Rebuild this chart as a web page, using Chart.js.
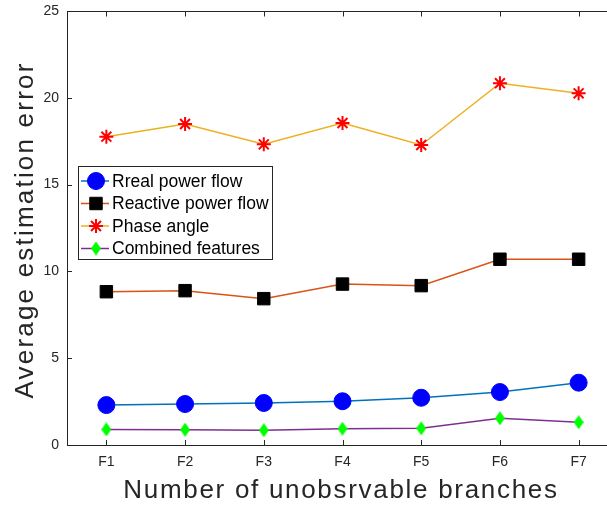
<!DOCTYPE html>
<html>
<head>
<meta charset="utf-8">
<script src="https://cdn.jsdelivr.net/npm/chart.js@4.4.1/dist/chart.umd.min.js"></script>
<style>
  html, body { margin: 0; padding: 0; background: #fff; overflow: hidden; }
  /* the axes box runs a little past the right edge of the visible window */
  #wrap { position: relative; width: 607px; height: 505px; overflow: hidden; }
  #c { display: block; }
</style>
</head>
<body>
<div id="wrap"><canvas id="c" width="618" height="505"></canvas></div>
<script>
// Branch cases on the x axis
const categories = ['F1', 'F2', 'F3', 'F4', 'F5', 'F6', 'F7'];

// Average estimation error per feature set
const realPowerFlow     = [2.30, 2.36, 2.42, 2.52, 2.72, 3.05, 3.59];
const reactivePowerFlow = [8.83, 8.89, 8.43, 9.27, 9.18, 10.70, 10.70];
const phaseAngle        = [17.76, 18.49, 17.32, 18.55, 17.28, 20.84, 20.26];
const combinedFeatures  = [0.90, 0.88, 0.85, 0.94, 0.96, 1.54, 1.31];

const seriesLabels = ['Rreal power flow', 'Reactive power flow', 'Phase angle', 'Combined features'];
const xTitle = 'Number of unobsrvable branches';
const yTitle = 'Average estimation error';
const yMin = 0, yMax = 25, yStep = 5;

const FONT = "'Liberation Sans', Arial, Helvetica, sans-serif";
const AXIS = '#262626';

// Tall narrow diamond marker
function diamondMarker(w, h, color) {
  const c = document.createElement('canvas');
  c.width = w; c.height = h;
  const g = c.getContext('2d');
  g.fillStyle = color;
  g.beginPath();
  g.moveTo(w / 2, 0); g.lineTo(w, h / 2); g.lineTo(w / 2, h); g.lineTo(0, h / 2);
  g.closePath(); g.fill();
  return c;
}
const diamond = diamondMarker(10, 14, '#00FF00');

const datasets = [
  { label: seriesLabels[0], data: realPowerFlow, borderColor: '#0072BD', backgroundColor: '#0072BD',
    pointStyle: 'circle', pointRadius: 8.5, pointBackgroundColor: '#0000FF', pointBorderColor: '#0000FF', pointBorderWidth: 1 },
  { label: seriesLabels[1], data: reactivePowerFlow, borderColor: '#D95319', backgroundColor: '#D95319',
    pointStyle: 'rect', pointRadius: 8.8, pointBackgroundColor: '#000000', pointBorderColor: '#000000', pointBorderWidth: 1 },
  { label: seriesLabels[2], data: phaseAngle, borderColor: '#EDB120', backgroundColor: '#EDB120',
    pointStyle: 'star', pointRadius: 7, pointBackgroundColor: '#FF0000', pointBorderColor: '#FF0000', pointBorderWidth: 2 },
  { label: seriesLabels[3], data: combinedFeatures, borderColor: '#7E2F8E', backgroundColor: '#7E2F8E',
    pointStyle: diamond, pointRadius: 7, pointBackgroundColor: '#00FF00', pointBorderColor: '#00FF00', pointBorderWidth: 1 }
].map(d => Object.assign({ borderWidth: 1.5, tension: 0, fill: false, clip: false }, d));

// Top edge plus inward-pointing tick marks
const framePlugin = {
  id: 'frame',
  beforeDatasetsDraw(chart) {
    const { ctx, chartArea: a, scales: { x, y } } = chart;
    ctx.save();
    ctx.strokeStyle = AXIS;
    ctx.lineWidth = 1;
    ctx.beginPath();
    const top = Math.round(a.top) + 0.5;
    ctx.moveTo(a.left, top); ctx.lineTo(a.right, top);
    x.ticks.forEach((t, i) => {
      const px = Math.round(x.getPixelForTick(i)) + 0.5;
      ctx.moveTo(px, a.bottom); ctx.lineTo(px, a.bottom - 5);
      ctx.moveTo(px, top); ctx.lineTo(px, top + 5);
    });
    y.ticks.forEach((t, i) => {
      const py = Math.round(y.getPixelForTick(i)) + 0.5;
      ctx.moveTo(a.left, py); ctx.lineTo(a.left + 5, py);
    });
    ctx.stroke();
    ctx.restore();
  }
};

// Axis titles, drawn with a little letter spacing
const titlesPlugin = {
  id: 'axisTitles',
  afterDraw(chart) {
    const { ctx } = chart;
    ctx.save();
    ctx.fillStyle = AXIS;
    ctx.font = '26px ' + FONT;
    ctx.textAlign = 'center';
    ctx.textBaseline = 'alphabetic';
    ctx.letterSpacing = '1.7px';
    ctx.fillText(xTitle, 341, 498);
    ctx.translate(33, 230);
    ctx.rotate(-Math.PI / 2);
    ctx.letterSpacing = '2.2px';
    ctx.fillText(yTitle, 0, 0);
    ctx.restore();
  }
};

// Boxed legend with line + marker samples
const legendPlugin = {
  id: 'boxLegend',
  afterDraw(chart) {
    const { ctx } = chart;
    const box = { x: 78.5, y: 166.5, w: 194, h: 93 };
    ctx.save();
    ctx.fillStyle = '#ffffff';
    ctx.fillRect(box.x, box.y, box.w, box.h);
    ctx.strokeStyle = AXIS;
    ctx.lineWidth = 1;
    ctx.strokeRect(box.x, box.y, box.w, box.h);
    ctx.font = '17.5px ' + FONT;
    ctx.textBaseline = 'middle';
    ctx.textAlign = 'left';
    chart.data.datasets.forEach((ds, i) => {
      const cy = 181 + i * 22.5;
      ctx.strokeStyle = ds.borderColor;
      ctx.lineWidth = ds.borderWidth;
      ctx.beginPath();
      ctx.moveTo(81, cy); ctx.lineTo(109, cy);
      ctx.stroke();
      ctx.fillStyle = ds.pointBackgroundColor;
      ctx.strokeStyle = ds.pointBorderColor;
      ctx.lineWidth = ds.pointBorderWidth;
      Chart.helpers.drawPoint(ctx, {
        pointStyle: ds.pointStyle, radius: ds.pointRadius, rotation: 0, borderWidth: ds.pointBorderWidth
      }, 96, cy);
      ctx.fillStyle = '#000000';
      ctx.fillText(ds.label, 112, cy + 1);
    });
    ctx.restore();
  }
};

new Chart(document.getElementById('c'), {
  type: 'line',
  data: { labels: categories, datasets },
  plugins: [framePlugin, legendPlugin, titlesPlugin],
  options: {
    responsive: false,
    devicePixelRatio: 1,
    animation: false,
    layout: { autoPadding: false, padding: { top: 11, right: 0, bottom: 0, left: 0 } },
    plugins: { legend: { display: false }, tooltip: { enabled: false } },
    scales: {
      x: {
        type: 'category',
        offset: true,
        grid: { display: false, drawTicks: false },
        border: { display: true, color: AXIS, width: 1 },
        ticks: { color: AXIS, font: { family: FONT, size: 14 }, padding: 9, maxRotation: 0 },
        title: { display: false },
        afterFit(s) { s.height = 60; s.paddingLeft = 0; s.paddingRight = 0; }
      },
      y: {
        min: yMin, max: yMax,
        grid: { display: false, drawTicks: false },
        border: { display: true, color: AXIS, width: 1 },
        ticks: { stepSize: yStep, color: AXIS, font: { family: FONT, size: 14 }, padding: 8 },
        title: { display: false },
        afterFit(s) { s.width = 67; s.paddingTop = 0; s.paddingBottom = 0; }
      }
    }
  }
});
</script>
</body>
</html>
